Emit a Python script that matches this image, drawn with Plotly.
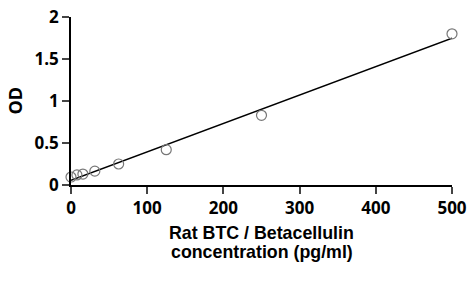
import numpy as np
import plotly.graph_objects as go

concentration = [0, 7.8, 15.6, 31.25, 62.5, 125, 250, 500]
od = [0.095, 0.12, 0.13, 0.165, 0.25, 0.42, 0.83, 1.80]
x_ticks = [0, 100, 200, 300, 400, 500]
y_ticks = [0, 0.5, 1, 1.5, 2]
y_tick_labels = ["0", "0.5", "1", "1.5", "2"]
x_title_lines = ["Rat BTC / Betacellulin", "concentration (pg/ml)"]
y_title = "OD"

slope, intercept = np.polyfit(concentration, od, 1)
fit_x = [min(concentration), max(concentration)]
fit_y = [slope * v + intercept for v in fit_x]

fig = go.Figure()
fig.add_trace(go.Scatter(x=fit_x, y=fit_y, mode="lines",
                         line=dict(color="black", width=1.5), cliponaxis=False, hoverinfo="skip"))
fig.add_trace(go.Scatter(x=concentration, y=od, mode="markers", cliponaxis=False,
                         marker=dict(symbol="circle-open", size=10, color="#777777",
                                     line=dict(width=1.2, color="#777777"))))

tick_font = dict(family="Open Sans", size=17, color="black", weight="bold")
title_font = dict(family="Liberation Sans", size=17.8, color="black", weight="bold")
fig.update_layout(
    width=470, height=287,
    margin=dict(l=71, r=18, t=17, b=102),
    plot_bgcolor="white", paper_bgcolor="white",
    showlegend=False,
    xaxis=dict(range=[0, 500], tickvals=x_ticks, ticks="outside", ticklen=7,
               showline=True, linecolor="black", linewidth=1.5, tickwidth=1.5,
               showgrid=False, zeroline=False, tickfont=tick_font, automargin=False),
    yaxis=dict(range=[0, 2], tickvals=y_ticks, ticktext=y_tick_labels, ticks="outside", ticklen=7,
               showline=True, linecolor="black", linewidth=1.5, tickwidth=1.5,
               showgrid=False, zeroline=False, tickfont=tick_font, automargin=False),
)
fig.add_annotation(text=x_title_lines[0], xref="paper", yref="paper", x=0.5, y=-0.283,
                   showarrow=False, font=title_font, yanchor="middle")
fig.add_annotation(text=x_title_lines[1], xref="paper", yref="paper", x=0.5, y=-0.398,
                   showarrow=False, font=title_font, yanchor="middle")
fig.add_annotation(text=y_title, xref="paper", yref="paper", x=-0.148, y=0.5,
                   showarrow=False, textangle=-90, xanchor="center", yanchor="middle",
                   font=dict(family="Open Sans", size=18, color="black", weight="bold"))
fig.write_html("out.html", config={"displayModeBar": False},
               post_script="document.body.style.margin='0';")
